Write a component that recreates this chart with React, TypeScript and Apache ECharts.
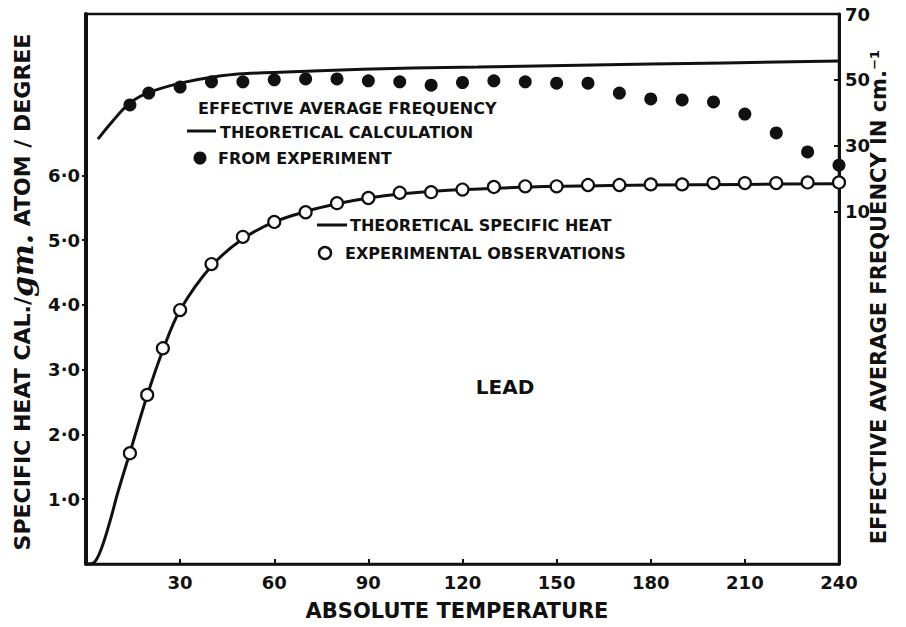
import React, { useEffect, useRef } from "react";
import * as echarts from "echarts";

// ---- data ----
const xTicks = [30, 60, 90, 120, 150, 180, 210, 240];
const leftTicks = [1, 2, 3, 4, 5, 6];
const rightTicks = [10, 30, 50, 70];

// theoretical specific heat (cal / gm atom / degree)
const cvTheoryT = [0, 2.5, 5, 8, 10, 14, 19.5, 24.5, 30, 40, 50, 60, 70, 80, 90, 100, 120, 150, 180, 210, 240];
const cvTheory = [0, 0.02, 0.25, 0.72, 1.08, 1.72, 2.6, 3.3, 3.92, 4.6, 5.02, 5.28, 5.44, 5.56, 5.65, 5.71, 5.78, 5.83, 5.85, 5.86, 5.87];

// experimental specific heat observations
const cvExpT = [14, 19.5, 24.5, 30, 40, 50, 60, 70, 80, 90, 100, 110, 120, 130, 140, 150, 160, 170, 180, 190, 200, 210, 220, 230, 240];
const cvExp = [1.71, 2.61, 3.33, 3.92, 4.63, 5.05, 5.28, 5.43, 5.57, 5.65, 5.73, 5.74, 5.78, 5.82, 5.83, 5.83, 5.85, 5.85, 5.86, 5.86, 5.88, 5.88, 5.88, 5.89, 5.89];

// effective average frequency, theoretical calculation (cm^-1)
const freqTheoryT = [3.8, 8.6, 14, 19.6, 30, 40.5, 51.3, 72.3, 104, 125, 180, 240];
const freqTheory = [32.0, 37.6, 43.0, 46.0, 49.0, 50.9, 51.9, 52.7, 53.6, 53.9, 54.8, 55.7];

// effective average frequency from experiment
const freqExpT = [14, 20, 30, 40, 50, 60, 70, 80, 90, 100, 110, 120, 130, 140, 150, 160, 170, 180, 190, 200, 210, 220, 230, 240];
const freqExp = [42.4, 46.0, 47.8, 49.4, 49.4, 50.0, 50.3, 50.3, 49.7, 49.4, 48.4, 49.2, 49.7, 49.4, 49.0, 49.0, 46.0, 44.2, 43.9, 43.3, 39.6, 33.9, 28.1, 24.1];

const INK = "#111";
const FONT = "DejaVu Sans";

function pairs(xs: number[], ys: number[]) {
  return xs.map((x, i) => [x, ys[i]]);
}

export default function App() {
  const ref = useRef<HTMLDivElement>(null);

  useEffect(() => {
    if (!ref.current) return;
    const chart = echarts.init(ref.current, undefined, { renderer: "svg" });

    const txt = (text: string, x: number, y: number, size: number, align = "left", extra: any = {}) => ({
      type: "text",
      x,
      y,
      ...extra,
      style: {
        text,
        fill: INK,
        font: `bold ${size}px "${FONT}"`,
        textAlign: align,
        textVerticalAlign: "middle",
        ...(extra.style || {}),
      },
    });

    chart.setOption({
      animation: false,
      backgroundColor: "#fff",
      grid: {
        left: 86,
        right: 67,
        top: 14,
        bottom: 63,
        show: true,
        borderColor: INK,
        borderWidth: 2.5,
        containLabel: false,
      },
      xAxis: {
        type: "value",
        min: 0,
        max: 240,
        interval: 30,
        splitLine: { show: false },
        axisLine: { show: true, lineStyle: { color: INK, width: 2.5 } },
        axisTick: { show: true, inside: true, length: 5, lineStyle: { color: INK, width: 2 }, customValues: xTicks },
        axisLabel: {
          customValues: xTicks,
          color: INK,
          fontFamily: FONT,
          fontWeight: "bold",
          fontSize: 18,
          margin: 9,
        },
      },
      yAxis: [
        {
          type: "value",
          position: "left",
          min: 0,
          max: 8.49,
          splitLine: { show: false },
          axisLine: { show: true, lineStyle: { color: INK, width: 4 } },
          axisTick: { show: true, inside: false, length: 4, lineStyle: { color: INK, width: 2 }, customValues: leftTicks },
          axisLabel: {
            customValues: leftTicks,
            formatter: (v: number) => v.toFixed(1).replace(".", "·"),
            color: INK,
            fontFamily: FONT,
            fontWeight: "bold",
            fontSize: 18,
            margin: 6,
          },
        },
        {
          type: "value",
          position: "right",
          min: -97,
          max: 70,
          splitLine: { show: false },
          axisLine: { show: true, lineStyle: { color: INK, width: 3 } },
          axisTick: { show: true, inside: true, length: 5, lineStyle: { color: INK, width: 2 }, customValues: rightTicks },
          axisLabel: {
            customValues: rightTicks,
            color: INK,
            fontFamily: FONT,
            fontWeight: "bold",
            fontSize: 18,
            margin: 6,
          },
        },
      ],
      series: [
        {
          name: "Theoretical specific heat",
          type: "line",
          yAxisIndex: 0,
          data: pairs(cvTheoryT, cvTheory),
          smooth: 0.35,
          showSymbol: false,
          lineStyle: { color: INK, width: 3 },
          z: 2,
        },
        {
          name: "Experimental observations",
          type: "scatter",
          yAxisIndex: 0,
          data: pairs(cvExpT, cvExp),
          symbol: "circle",
          symbolSize: 12,
          itemStyle: { color: "#fff", borderColor: INK, borderWidth: 2.2, opacity: 1 },
          z: 4,
        },
        {
          name: "Theoretical calculation",
          type: "line",
          yAxisIndex: 1,
          data: pairs(freqTheoryT, freqTheory),
          smooth: 0.35,
          showSymbol: false,
          lineStyle: { color: INK, width: 3 },
          z: 2,
        },
        {
          name: "From experiment",
          type: "scatter",
          yAxisIndex: 1,
          data: pairs(freqExpT, freqExp),
          symbol: "circle",
          symbolSize: 13,
          itemStyle: { color: INK, opacity: 1 },
          z: 4,
        },
      ],
      graphic: [
        txt("EFFECTIVE AVERAGE FREQUENCY", 198, 108, 16),
        { type: "line", shape: { x1: 187, y1: 131, x2: 216, y2: 131 }, style: { stroke: INK, lineWidth: 3 } },
        txt("THEORETICAL CALCULATION", 220, 132, 16),
        { type: "circle", shape: { cx: 200, cy: 158, r: 6.5 }, style: { fill: INK } },
        txt("FROM EXPERIMENT", 218, 158, 16),
        { type: "line", shape: { x1: 317, y1: 225, x2: 347, y2: 225 }, style: { stroke: INK, lineWidth: 3 } },
        txt("THEORETICAL SPECIFIC HEAT", 350, 225, 16),
        { type: "circle", shape: { cx: 325, cy: 253, r: 6 }, style: { fill: "#fff", stroke: INK, lineWidth: 2.5 } },
        txt("EXPERIMENTAL OBSERVATIONS", 345, 253, 16),
        txt("LEAD", 505, 387, 20, "center"),
        txt("ABSOLUTE TEMPERATURE", 457, 611, 21, "center"),
        {
          type: "text",
          x: 22,
          y: 292,
          rotation: Math.PI / 2,
          style: {
            text: "{a|SPECIFIC HEAT CAL./}{g|gm.}{a| ATOM / DEGREE}",
            textAlign: "center",
            textVerticalAlign: "middle",
            rich: {
              a: { fill: INK, fontFamily: FONT, fontWeight: "bold", fontSize: 22 },
              g: { fill: INK, fontFamily: "DejaVu Serif", fontStyle: "italic", fontWeight: "bold", fontSize: 30 },
            },
          },
        },
        txt("EFFECTIVE AVERAGE FREQUENCY IN cm.⁻¹", 879, 297, 21, "center", { rotation: Math.PI / 2 }),
      ],
    });

    return () => chart.dispose();
  }, []);

  return (
    <div
      ref={ref}
      style={{ position: "fixed", left: 0, top: 0, width: 906, height: 627, background: "#fff" }}
    />
  );
}
